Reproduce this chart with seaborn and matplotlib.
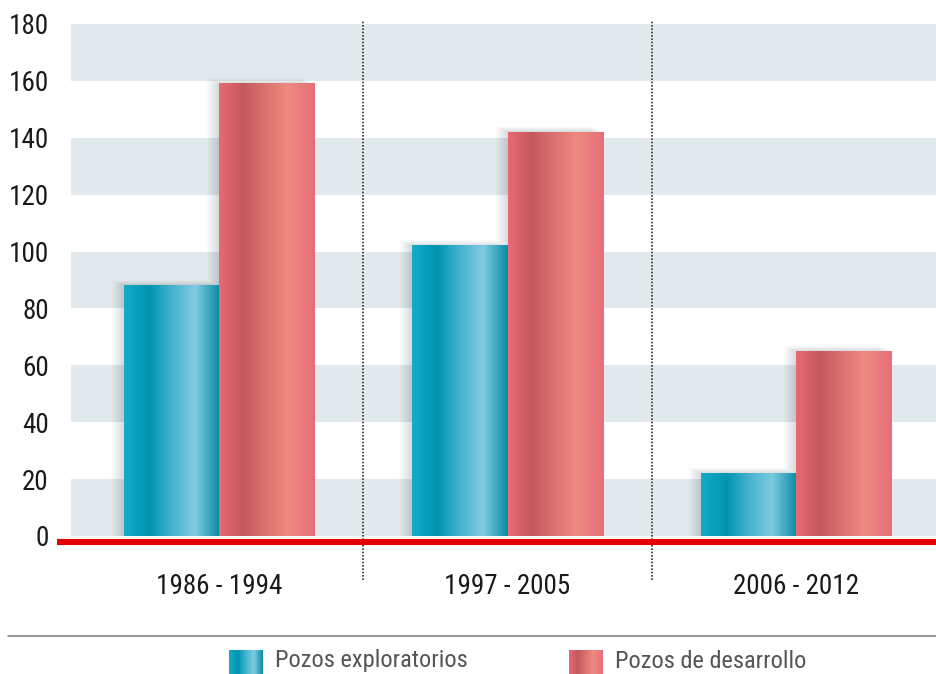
import numpy as np
import pandas as pd
import seaborn as sns
import matplotlib.pyplot as plt
from matplotlib import font_manager
from matplotlib.colors import LinearSegmentedColormap
from matplotlib.lines import Line2D
from matplotlib.patches import Rectangle

# === Data ===
periods = ["1986 - 1994", "1997 - 2005", "2006 - 2012"]
exploratorios = [88, 102, 22]
desarrollo = [159, 142, 65]
series_names = ["Pozos exploratorios", "Pozos de desarrollo"]
y_ticks = [0, 20, 40, 60, 80, 100, 120, 140, 160, 180]

df = pd.DataFrame({
    "periodo": periods * 2,
    "pozos": exploratorios + desarrollo,
    "tipo": [series_names[0]] * 3 + [series_names[1]] * 3,
})

# metallic gradients (left -> right)
cyan_cmap = LinearSegmentedColormap.from_list("cyan", [
    (0.0, "#14acc9"), (0.27, "#0094b0"), (0.5, "#45b3cf"),
    (0.74, "#7ecbe1"), (0.93, "#2a9db8"), (1.0, "#0a8aa4")])
red_cmap = LinearSegmentedColormap.from_list("red", [
    (0.0, "#e96a73"), (0.25, "#c4585f"), (0.5, "#db7570"),
    (0.72, "#ee8a80"), (1.0, "#e86e78")])
grad = np.linspace(0, 1, 256).reshape(1, -1)

sns.set_style("white")

# pick a condensed font if one is installed, otherwise shrink Liberation Sans
font_choice = None
for fam, scale in [("Roboto Condensed", 1.0), ("Liberation Sans Narrow", 1.0),
                   ("DejaVu Sans Condensed", 0.86)]:
    try:
        font_manager.findfont(font_manager.FontProperties(family=fam),
                              fallback_to_default=False)
        font_choice = (fam, scale)
        break
    except ValueError:
        pass
if font_choice is None:
    font_choice = ("Liberation Sans", 0.87)
fam, scale = font_choice
plt.rcParams["font.family"] = [fam, "DejaVu Sans"]
tick_fs = 19.5 * scale
leg_fs = 17.6 * scale * (0.95 if fam == "Liberation Sans" else 1.0)

W, H = 936, 674
fig = plt.figure(figsize=(W / 100, H / 100), dpi=100)
ax = fig.add_axes([71 / W, 138 / H, 865 / W, 512 / H])

sns.barplot(data=df, x="periodo", y="pozos", hue="tipo",
            palette=["#0094b0", "#e96a73"], width=0.66, gap=0.0,
            legend=False, ax=ax, zorder=2)

xlim = (-0.513, 2.485)
ylim = (0, 180)

# striped background bands
for lo in range(0, 180, 40):
    ax.axhspan(lo, lo + 20, color="#e2e9ec", lw=0, zorder=0)

px_x = 1 / 288.5
px_y = 180 / 512

# soft shadow behind each bar (mostly to the left)
for cont in ax.containers:
    for p in cont:
        for k in range(1, 13):
            ax.add_patch(Rectangle((p.get_x() - k * px_x, 0),
                                   p.get_width(),
                                   p.get_height() + k * px_y * 0.45,
                                   color="#5a6470", alpha=0.02, lw=0, zorder=1))

# gradient fill of bars
for cont, cmap in zip(ax.containers, [cyan_cmap, red_cmap]):
    for p in cont:
        x = p.get_x()
        w = p.get_width()
        h = p.get_height()
        p.set_alpha(0)
        ax.imshow(grad, cmap=cmap, aspect="auto", extent=[x, x + w, 0, h],
                  interpolation="bicubic", zorder=3)

# dotted dividers between periods
for xd in [0.5, 1.5]:
    ax.plot([xd, xd], [-15.5, 181], color="#333333", lw=1.2,
            linestyle=(0, (1, 1)), clip_on=False, zorder=4)

ax.set_xlim(*xlim)
ax.set_ylim(*ylim)
ax.set_yticks(y_ticks)
ax.set_xlabel("")
ax.set_ylabel("")
sns.despine(ax=ax, left=True, bottom=True)
ax.tick_params(axis="both", length=0)
ax.tick_params(axis="y", pad=16, labelsize=tick_fs, labelcolor="#1a1a1a")
ax.tick_params(axis="x", pad=27, labelsize=tick_fs, labelcolor="#1a1a1a")

# red baseline
fig.add_artist(Line2D([57 / W, 1.0], [1 - 542 / H, 1 - 542 / H],
                      color="#e30000", lw=4.4, solid_capstyle="butt"))
# gray separator
fig.add_artist(Line2D([8 / W, 1.0], [1 - 636 / H, 1 - 636 / H],
                      color="#7a7a7a", lw=1.1))

# legend with gradient swatches
for x_sw, x_txt, cmap, name in [(229, 275, cyan_cmap, series_names[0]),
                                 (569, 615, red_cmap, series_names[1])]:
    sw = fig.add_axes([x_sw / W, 0, 34 / W, 24 / H])
    sw.imshow(grad, cmap=cmap, aspect="auto", interpolation="bicubic")
    sw.set_axis_off()
    fig.text(x_txt / W, 1 - 661 / H, name, fontsize=leg_fs, color="#555555",
             va="center", ha="left")

fig.savefig("out.png", dpi=100)
